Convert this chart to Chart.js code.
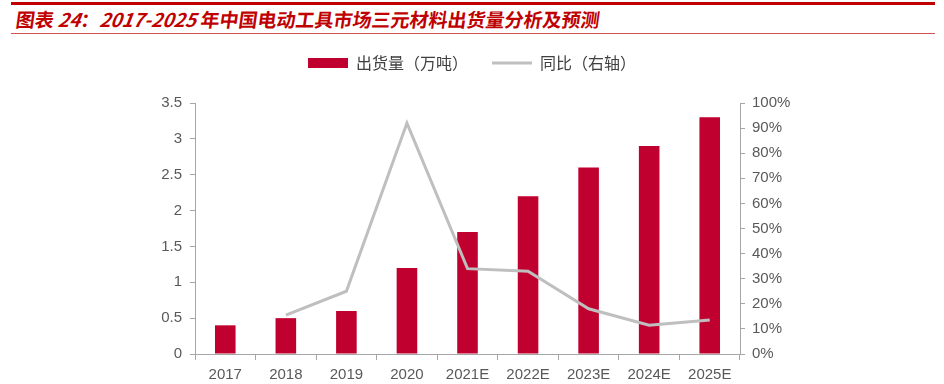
<!DOCTYPE html>
<html>
<head>
<meta charset="utf-8">
<script src="https://cdn.jsdelivr.net/npm/chart.js@4"></script>
<style>
  html, body { margin: 0; padding: 0; background: #fff; }
  body { width: 944px; height: 384px; position: relative; overflow: hidden; }
  .topbar { position: absolute; left: 11px; right: 9px; top: 2px; height: 3px; background: #C00000; }
  .title {
    position: absolute; left: 16px; top: 7px;
    font-family: "Liberation Sans Narrow", "Noto Sans CJK SC", sans-serif;
    font-weight: bold; font-style: italic; font-size: 19px; color: #C00000;
    transform: skewX(-8deg); white-space: nowrap; line-height: 24px;
  }
  .title .cjk { font-family: "Noto Sans CJK SC", sans-serif; font-style: normal; }
  .rule { position: absolute; left: 11px; right: 9px; top: 33px; height: 1px; background: #D05050; }
  .wrap { position: absolute; left: 0; top: 38px; width: 944px; height: 346px; }
</style>
</head>
<body>
<div class="topbar"></div>
<div class="title"><span class="cjk">图表</span> 24<span class="cjk">：</span>2017-2025 <span class="cjk">年中国电动工具市场三元材料出货量分析及预测</span></div>
<div class="rule"></div>
<div class="wrap"><canvas id="shipChart" width="944" height="346"></canvas></div>
<script>
const years = ["2017", "2018", "2019", "2020", "2021E", "2022E", "2023E", "2024E", "2025E"];
const shipments = [0.4, 0.5, 0.6, 1.2, 1.7, 2.2, 2.6, 2.9, 3.3];
const yoyPct = [null, 15.5, 25, 92, 34, 33, 18, 11.5, 13.5];
const leftTicks = [0, 0.5, 1, 1.5, 2, 2.5, 3, 3.5];
const rightTicks = [0, 10, 20, 30, 40, 50, 60, 70, 80, 90, 100];

const palette = {
  bar: "#C0002F",
  line: "#BFBFBF",
  axis: "#A6A6A6",
  tick: "#595959",
  legend: "#404040",
};

const tickFont = { family: "'Liberation Sans', Arial, sans-serif", size: 15 };

new Chart(document.getElementById("shipChart"), {
  type: "bar",
  data: {
    labels: years,
    datasets: [
      {
        label: "出货量（万吨）",
        data: shipments,
        backgroundColor: palette.bar,
        borderWidth: 0,
        barPercentage: 0.34,
        categoryPercentage: 1,
        yAxisID: "y",
        order: 2,
        pointStyle: "rect",
      },
      {
        type: "line",
        label: "同比（右轴）",
        data: yoyPct,
        borderColor: palette.line,
        backgroundColor: palette.line,
        borderWidth: 3,
        pointRadius: 0,
        tension: 0,
        yAxisID: "y1",
        order: 1,
        pointStyle: "line",
      },
    ],
  },
  options: {
    responsive: false,
    animation: false,
    layout: { padding: 0 },
    plugins: {
      tooltip: { enabled: false },
      legend: {
        display: true,
        position: "top",
        labels: {
          usePointStyle: true,
          pointStyleWidth: 40,
          boxHeight: 10,
          color: palette.legend,
          font: { family: "'Noto Sans CJK SC', sans-serif", size: 16 },
          padding: 24,
          sort: (a, b) => a.datasetIndex - b.datasetIndex,
        },
      },
    },
    scales: {
      x: {
        offset: true,
        grid: { display: true, drawOnChartArea: false, drawTicks: true, tickLength: 6, color: palette.axis, offset: true },
        border: { display: true, color: palette.axis, width: 1 },
        ticks: { color: palette.tick, font: tickFont, padding: 6, maxRotation: 0, autoSkip: false },
        afterFit: (axis) => { axis.height = 30; },
      },
      y: {
        position: "left",
        min: 0,
        max: 3.5,
        afterBuildTicks: (axis) => { axis.ticks = leftTicks.map((v) => ({ value: v })); },
        grid: { display: true, drawOnChartArea: false, drawTicks: true, tickLength: 5, color: palette.axis },
        border: { display: true, color: palette.axis, width: 1 },
        ticks: { color: palette.tick, font: tickFont, padding: 8, callback: (v) => String(Math.round(v * 10) / 10) },
        afterFit: (axis) => { axis.width = 195; },
      },
      y1: {
        position: "right",
        min: 0,
        max: 100,
        afterBuildTicks: (axis) => { axis.ticks = rightTicks.map((v) => ({ value: v })); },
        grid: { display: true, drawOnChartArea: false, drawTicks: true, tickLength: 5, color: palette.axis },
        border: { display: true, color: palette.axis, width: 1 },
        ticks: { color: palette.tick, font: tickFont, padding: 7, callback: (v) => v + "%" },
        afterFit: (axis) => { axis.width = 204; },
      },
    },
  },
  plugins: [
    {
      // fix the legend band height and draw the legend a few pixels higher
      id: "legendSpacing",
      afterInit(chart) {
        const legend = chart.legend;
        const fit = legend.fit;
        legend.fit = function () {
          fit.call(this);
          this.height = 65;
        };
        const draw = legend.draw;
        legend.draw = function () {
          const ctx = this.ctx;
          ctx.save();
          ctx.translate(0, -7);
          draw.call(this);
          ctx.restore();
        };
      },
    },
  ],
});
</script>
</body>
</html>
